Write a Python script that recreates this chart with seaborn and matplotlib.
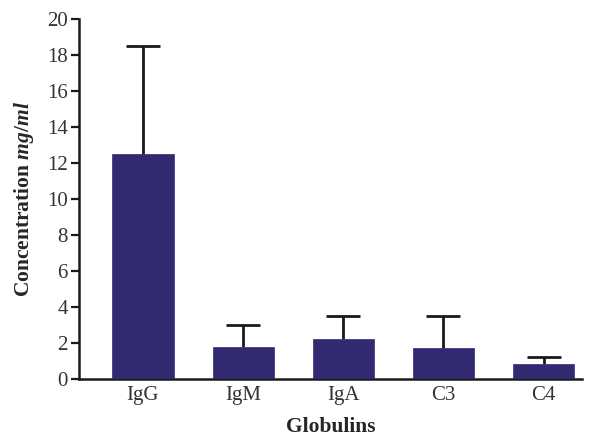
import matplotlib
matplotlib.use("Agg")
import matplotlib.pyplot as plt
import seaborn as sns
import numpy as np
import pandas as pd

categories = ["IgG", "IgM", "IgA", "C3", "C4"]
means = [12.5, 1.8, 2.2, 1.7, 0.8]
upper_err = [6.0, 1.2, 1.3, 1.8, 0.4]
yticks = [0, 2, 4, 6, 8, 10, 12, 14, 16, 18, 20]

sns.set_style("white")
plt.rcParams["font.family"] = ["Liberation Serif", "DejaVu Serif"]
plt.rcParams["mathtext.fontset"] = "custom"
plt.rcParams["mathtext.it"] = "Liberation Serif:italic:bold"
plt.rcParams["mathtext.rm"] = "Liberation Serif:bold"

df = pd.DataFrame({"Globulins": categories, "Concentration": means})

fig = plt.figure(figsize=(5.93, 4.36), dpi=100)
ax = fig.add_axes([0.133, 0.131, 0.848, 0.825])

sns.barplot(data=df, x="Globulins", y="Concentration", color="#312a70",
            saturation=1, width=0.61, errorbar=None, ax=ax,
            edgecolor="#312a70", linewidth=0.5)
for p in ax.patches:
    p.set_zorder(3)
xs = np.arange(len(categories))
eb = ax.errorbar(xs, means, yerr=[np.zeros(len(means)), upper_err], fmt="none",
                 ecolor="#1a1a1a", elinewidth=2, capsize=12, capthick=2, zorder=2)
for cl in eb[1]:
    if np.allclose(cl.get_ydata(), means):
        cl.set_visible(False)

ax.set_ylim(0, 20)
ax.set_xlim(-0.64, 4.38)
ax.set_yticks(yticks)
ax.set_yticklabels([str(t) for t in yticks], fontsize=15, color="#333333")
ax.set_xticks(xs)
ax.set_xticklabels(categories, fontsize=15, color="#333333")
ax.tick_params(axis="y", direction="out", length=6, width=1.6, color="#1a1a1a", pad=2, left=True)
ax.tick_params(axis="x", length=0, pad=5)

for s in ["top", "right"]:
    ax.spines[s].set_visible(False)
for s in ["left", "bottom"]:
    ax.spines[s].set_color("#1a1a1a")
    ax.spines[s].set_linewidth(1.8)

ax.set_ylabel(r"Concentration $\mathit{mg/ml}$", fontsize=15.5, fontweight="bold", labelpad=8)
ax.set_xlabel("Globulins", fontsize=15.5, fontweight="bold", labelpad=8.5)

fig.savefig("out.png", dpi=100)
